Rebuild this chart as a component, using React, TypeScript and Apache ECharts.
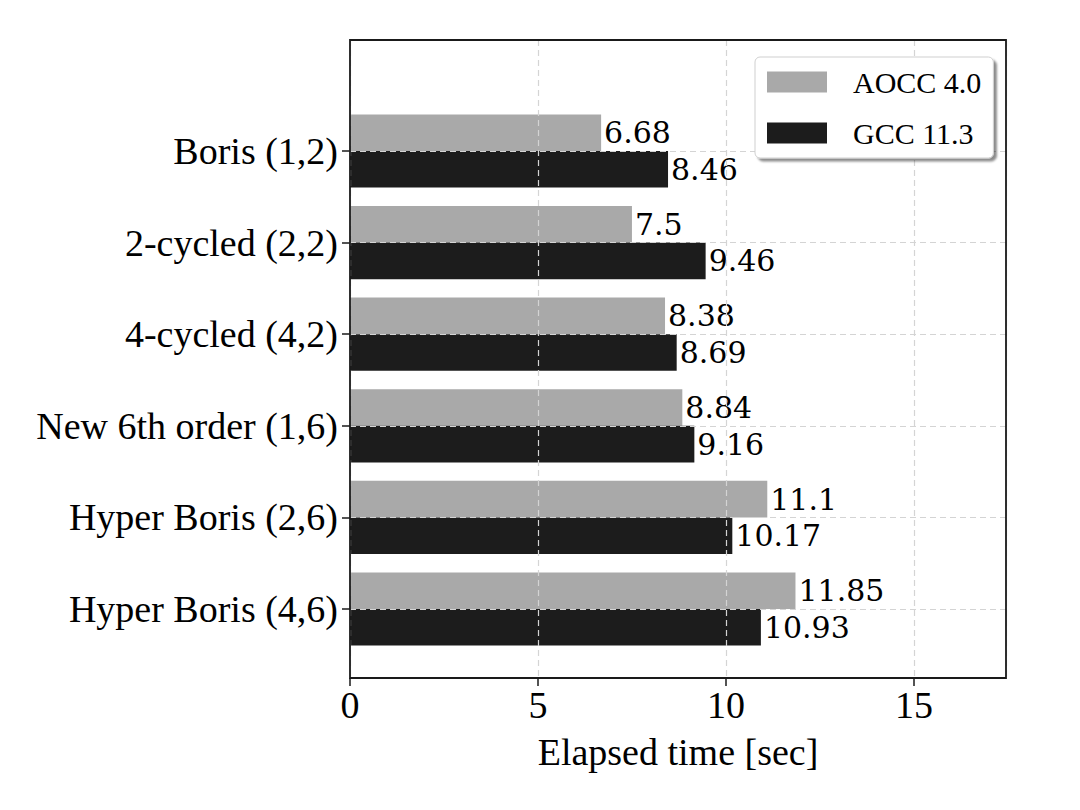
import React, { useEffect, useRef } from "react";
import * as echarts from "echarts";

const categories = [
  "Boris (1,2)",
  "2-cycled (2,2)",
  "4-cycled (4,2)",
  "New 6th order (1,6)",
  "Hyper Boris (2,6)",
  "Hyper Boris (4,6)",
];
const aoccValues = [6.68, 7.5, 8.38, 8.84, 11.1, 11.85];
const gccValues = [8.46, 9.46, 8.69, 9.16, 10.17, 10.93];
const seriesNames = ["AOCC 4.0", "GCC 11.3"];
const xMax = 17.45;
const xInterval = 5;
const xAxisName = "Elapsed time [sec]";

const SERIF = "'Liberation Serif', 'Times New Roman', serif";
const LABEL_FONT = "'DejaVu Serif', serif";

export default function App() {
  const ref = useRef<HTMLDivElement>(null);
  useEffect(() => {
    if (!ref.current) return;
    const chart = echarts.init(ref.current, undefined, { renderer: "svg" });
    const L = 350, W = 656, T = 40, H = 638;
    const band = 91.6;
    const firstCenter = 151;
    const topA = firstCenter - band / 2;
    const option: any = {
      animation: false,
      backgroundColor: "#ffffff",
      grid: [
        { left: L, width: W, top: topA, height: band * categories.length, containLabel: false },
        { left: L, width: W, top: T, height: H, containLabel: false },
      ],
      xAxis: [
        { type: "value", gridIndex: 0, min: 0, max: xMax, show: false },
        {
          type: "value",
          gridIndex: 1,
          min: 0,
          max: xMax,
          interval: xInterval,
          z: 3,
          axisLine: { show: false },
          axisTick: { show: true, length: 8, inside: false, lineStyle: { color: "#1a1a1a", width: 1.5 } },
          axisLabel: {
            show: true,
            margin: 8,
            fontFamily: SERIF,
            fontSize: 38,
            color: "#000",
            showMaxLabel: false,
          },
          splitLine: { show: true, lineStyle: { type: [6, 4], color: "#d4d4d4", width: 1.2 } },
          name: xAxisName,
          nameLocation: "middle",
          nameGap: 55,
          nameTextStyle: { fontFamily: SERIF, fontSize: 38, color: "#000" },
        },
      ],
      yAxis: [
        {
          type: "category",
          gridIndex: 0,
          data: categories,
          inverse: true,
          axisLine: { show: false },
          axisTick: { show: true, alignWithLabel: true, length: 8, lineStyle: { color: "#1a1a1a", width: 1.5 } },
          axisLabel: { margin: 12, fontFamily: SERIF, fontSize: 38, color: "#000" },
          splitLine: { show: false },
        },
        { type: "value", gridIndex: 1, show: false, min: 0, max: 1 },
      ],
      legend: {
        data: seriesNames,
        orient: "vertical",
        left: 755,
        top: 57,
        itemWidth: 60,
        itemHeight: 21,
        itemGap: 21,
        icon: "rect",
        padding: [10, 12, 10, 12],
        backgroundColor: "#ffffff",
        borderColor: "#cfcfcf",
        borderWidth: 1,
        borderRadius: 5,
        shadowColor: "rgba(0,0,0,0.45)",
        shadowBlur: 2,
        shadowOffsetX: 3,
        shadowOffsetY: 3,
        textStyle: { fontFamily: SERIF, fontSize: 30, color: "#000", padding: [0, 0, 0, 21] },
        z: 20,
      },
      series: [
        {
          name: seriesNames[0],
          type: "bar",
          xAxisIndex: 0,
          yAxisIndex: 0,
          data: aoccValues,
          barWidth: 36.6,
          barGap: "0%",
          itemStyle: { color: "#a9a9a9" },
          label: {
            show: true,
            position: "right",
            distance: 3,
            fontFamily: LABEL_FONT,
            fontSize: 30,
            color: "#000",
            formatter: (p: any) => String(p.value),
          },
        },
        {
          name: seriesNames[1],
          type: "bar",
          xAxisIndex: 0,
          yAxisIndex: 0,
          data: gccValues,
          barWidth: 36.6,
          barGap: "0%",
          itemStyle: { color: "#1c1c1c" },
          label: {
            show: true,
            position: "right",
            distance: 3,
            fontFamily: LABEL_FONT,
            fontSize: 30,
            color: "#000",
            formatter: (p: any) => String(p.value),
          },
        },
        {
          name: "hgrid",
          type: "line",
          xAxisIndex: 0,
          yAxisIndex: 0,
          data: [],
          z: 5,
          silent: true,
          markLine: {
            silent: true,
            symbol: "none",
            label: { show: false },
            lineStyle: { type: [6, 4], color: "#d4d4d4", width: 1.2 },
            data: categories.map((c) => ({ yAxis: c })),
          },
        },
      ],
      graphic: [
        {
          type: "rect",
          shape: { x: L, y: T, width: W, height: H },
          style: { fill: "none", stroke: "#1a1a1a", lineWidth: 1.8 },
          z: 100,
          silent: true,
        },
      ],
    };
    chart.setOption(option);
    return () => chart.dispose();
  }, []);
  return <div ref={ref} style={{ width: 1080, height: 810, margin: -8 }} />;
}
